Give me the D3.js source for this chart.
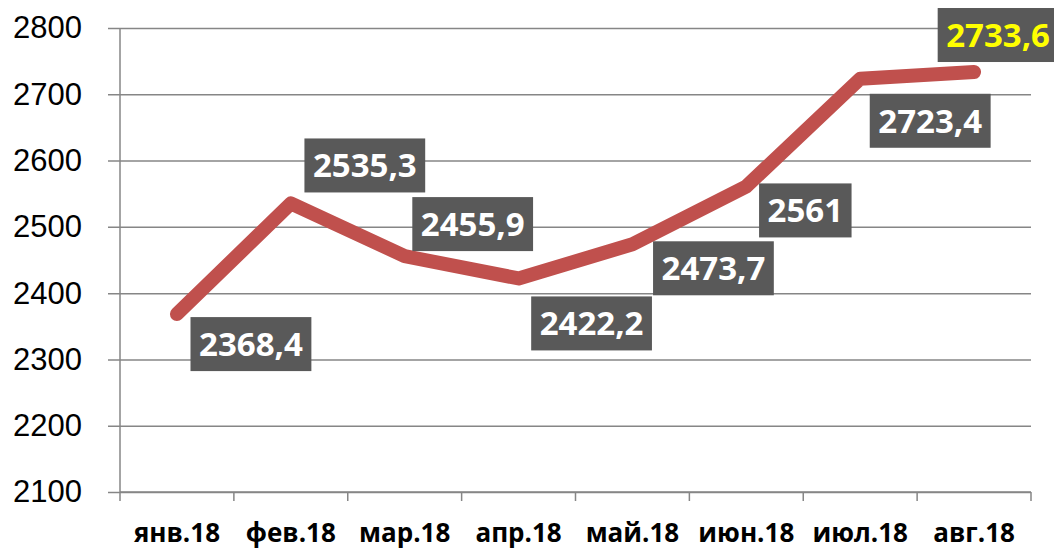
<!DOCTYPE html>
<html>
<head>
<meta charset="utf-8">
<script src="https://cdn.jsdelivr.net/npm/d3@7"></script>
<style>
  body { margin: 0; background: #fff; }
  svg { display: block; font-family: "Open Sans", sans-serif; }
</style>
</head>
<body>
<svg id="chart"></svg>
<script>
// months and values
let months = ['янв.18', 'фев.18', 'мар.18', 'апр.18', 'май.18', 'июн.18', 'июл.18', 'авг.18'];
let values = [2368.4, 2535.3, 2455.9, 2422.2, 2473.7, 2561, 2723.4, 2733.6];
let labels = ['2368,4', '2535,3', '2455,9', '2422,2', '2473,7', '2561', '2723,4', '2733,6'];
let yTicks = [2100, 2200, 2300, 2400, 2500, 2600, 2700, 2800];

// where excel put each data label box (center offset from the point)
let labelOffsets = [[74, 30], [74, -38], [68, -32], [73, 45], [81, 24], [59, 24], [70, 42], [24, -37]];

let width = 1054;
let height = 550;
let margin = { top: 28, right: 23, bottom: 58, left: 120 };

let svg = d3.select('#chart')
  .attr('width', width)
  .attr('height', height);

let x = d3.scaleBand()
  .domain(months)
  .range([margin.left, width - margin.right]);

let y = d3.scaleLinear()
  .domain([2100, 2800])
  .range([height - margin.bottom, margin.top]);

// horizontal grid + left axis
let yAxis = d3.axisLeft(y)
  .tickValues(yTicks)
  .tickSize(-(width - margin.right - margin.left))
  .tickPadding(26)
  .tickFormat(d3.format('d'));

let gy = svg.append('g')
  .attr('transform', `translate(${margin.left},0)`)
  .call(yAxis);
gy.select('.domain').attr('stroke', '#868686').attr('stroke-width', 1.5).attr('d', `M0,${y(2800)}V${y(2100)}`);
gy.selectAll('.tick line')
  .attr('stroke', '#868686')
  .attr('stroke-width', 1.5)
  .attr('x1', -12);
gy.selectAll('.tick text')
  .attr('fill', '#000')
  .style('font-size', '31px')
  .attr('x', -38);

// bottom axis with ticks between months
let gx = svg.append('g')
  .attr('transform', `translate(0,${height - margin.bottom})`);
gx.append('line')
  .attr('x1', margin.left).attr('x2', width - margin.right)
  .attr('stroke', '#868686').attr('stroke-width', 1.5);
let edges = months.map(m => x(m)).concat([x(months[months.length - 1]) + x.bandwidth()]);
gx.selectAll('.edge')
  .data(edges)
  .enter().append('line')
  .attr('class', 'edge')
  .attr('x1', d => d).attr('x2', d => d)
  .attr('y1', 0).attr('y2', 9)
  .attr('stroke', '#868686').attr('stroke-width', 1.5);
gx.selectAll('.mlabel')
  .data(months)
  .enter().append('text')
  .attr('class', 'mlabel')
  .attr('x', d => x(d) + x.bandwidth() / 2)
  .attr('y', 50)
  .attr('text-anchor', 'middle')
  .style('font-size', '26px')
  .style('font-weight', 'bold')
  .text(d => d);

// the line
let pts = values.map((v, i) => [x(months[i]) + x.bandwidth() / 2, y(v)]);
svg.append('path')
  .datum(pts)
  .attr('d', d3.line())
  .attr('fill', 'none')
  .attr('stroke', '#c0504d')
  .attr('stroke-width', 14)
  .attr('stroke-linecap', 'round')
  .attr('stroke-linejoin', 'round');

// data labels
let lab = svg.selectAll('.dlabel')
  .data(values)
  .enter().append('g')
  .attr('class', 'dlabel')
  .attr('transform', (d, i) => `translate(${pts[i][0] + labelOffsets[i][0]},${pts[i][1] + labelOffsets[i][1]})`);

lab.append('text')
  .attr('text-anchor', 'middle')
  .attr('dy', '0.36em')
  .style('font-size', '33px')
  .style('font-weight', 'bold')
  .attr('fill', (d, i) => i === values.length - 1 ? '#ffff00' : '#fff')
  .text((d, i) => labels[i]);

lab.each(function () {
  let g = d3.select(this);
  let bb = g.select('text').node().getBBox();
  let w = bb.width + 17;
  g.insert('rect', 'text')
    .attr('x', -w / 2)
    .attr('y', -27)
    .attr('width', w)
    .attr('height', 54)
    .attr('fill', '#595959');
});
</script>
</body>
</html>
